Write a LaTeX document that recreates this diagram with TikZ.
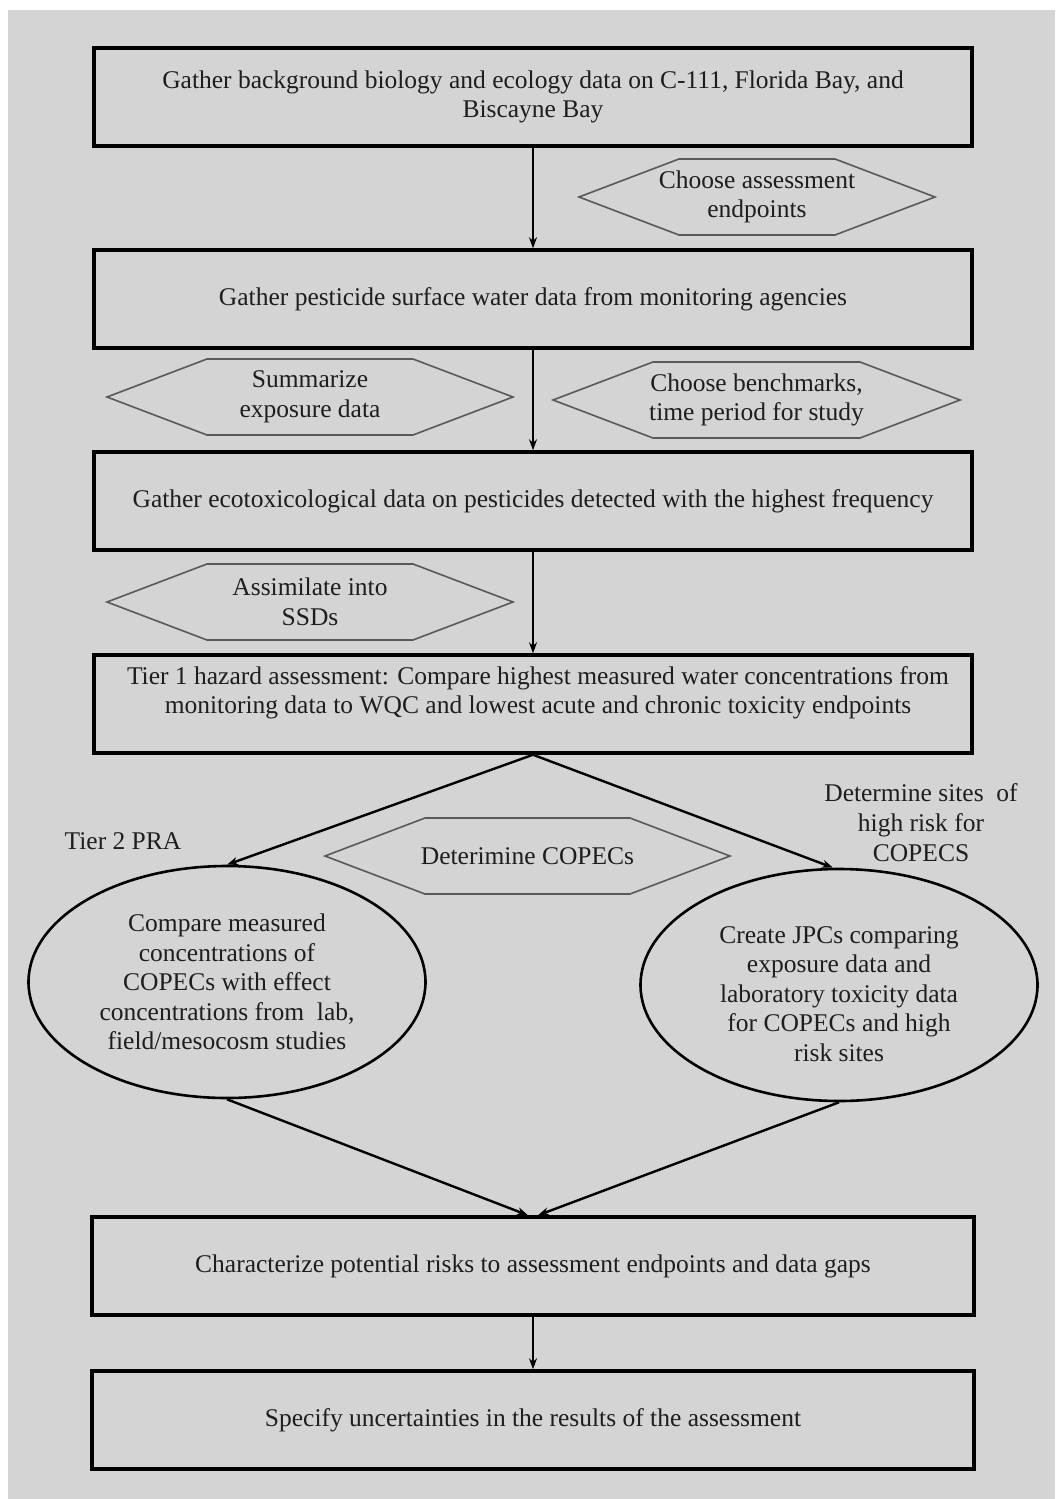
\documentclass[tikz,border=0pt]{standalone}
\usepackage{fontspec}
\setmainfont{Liberation Serif}
\usetikzlibrary{arrows.meta,shapes.geometric}
\definecolor{bg}{RGB}{212,212,212}
\definecolor{ink}{RGB}{30,30,30}
\newcommand\hexdraw[2]{\draw[hexline] ([xshift=-#2pt]#1.center) -- ++(100,-38) -- ++({2*(#2-100)},0) -- ++(100,38) -- ++(-100,38) -- ++({-2*(#2-100)},0) -- cycle;}
\begin{document}
\begin{tikzpicture}[x=1pt,y=-1pt,
  txt/.style={text=ink, align=center, font=\fontsize{25.5}{29.5}\selectfont, inner sep=0pt},
  box/.style={txt, draw=black, line width=3.5pt, fill=bg, minimum width=878pt, minimum height=98pt},
  oval/.style={txt, ellipse, draw=black, line width=2.6pt, fill=bg, minimum width=397pt, minimum height=232pt},
  hexline/.style={draw=black!65, line width=1.6pt, line join=miter},
  conn/.style={draw=black, line width=2.4pt},
  arr/.style={conn, -{Stealth[length=11pt,width=8pt]}},
]
\useasboundingbox (0,0) rectangle (1055,1499);
\fill[white] (0,0) rectangle (1055,1499);
\fill[bg] (8,10) rectangle (1055,1499);

% main boxes
\node[box] (b1) at (533,97) {Gather background biology and ecology data on C-111, Florida Bay, and\\Biscayne Bay};
\node[box] (b2) at (533,299) {Gather pesticide surface water data from monitoring agencies};
\node[box] (b3) at (533,501) {Gather ecotoxicological data on pesticides detected with the highest frequency};
\node[box] (b4) at (533,704) {};
\node[txt] (b4t) at (538,693) {Tier 1 hazard assessment: Compare highest measured water concentrations from\\monitoring data to WQC and lowest acute and chronic toxicity endpoints};
\node[box, minimum width=882pt] (b5) at (533,1266) {Characterize potential risks to assessment endpoints and data gaps};
\node[box, minimum width=882pt] (b6) at (533,1420) {Specify uncertainties in the results of the assessment};

% ellipses
\node[oval] (e1) at (227,982) {Compare measured\\concentrations of\\COPECs with effect\\concentrations from \ lab,\\field/mesocosm studies};
\node[oval] (e2) at (839,985) {};
\node[txt] (e2t) at (839,994) {Create JPCs comparing\\exposure data and\\laboratory toxicity data\\for COPECs and high\\risk sites};

% hexagons
\node[txt] (h1) at (757,197) {Choose assessment\\endpoints};
\hexdraw{h1}{178}
\node[txt] (h2) at (310,397) {Summarize\\exposure data};
\hexdraw{h2}{203}
\node[txt] (h3) at (756.5,400) {Choose benchmarks,\\time period for study};
\hexdraw{h3}{203.5}
\node[txt] (h4) at (310,602) {Assimilate into\\SSDs};
\hexdraw{h4}{203}
\node[txt] (h5) at (527.5,856) {Deterimine COPECs};
\hexdraw{h5}{202.5}

% free labels
\node[txt] (t2) at (123,841) {Tier 2 PRA};
\node[txt, font=\fontsize{25.5}{30}\selectfont] (ds) at (921,823) {Determine sites \ of\\high risk for\\COPECS};

% connectors
\draw[arr] (b1.south) -- (b2.north);
\draw[arr] (b2.south) -- (b3.north);
\draw[arr] (b3.south) -- (b4.north);
\draw[arr] (b4.south) -- (e1.north);
\draw[arr] (b4.south) -- ([xshift=-6pt]e2.north);
\draw[arr] (e1.south) -- ([xshift=-5pt]b5.north);
\draw[arr] (e2.south) -- ([xshift=5pt]b5.north);
\draw[arr] (b5.south) -- (b6.north);
\end{tikzpicture}
\end{document}
